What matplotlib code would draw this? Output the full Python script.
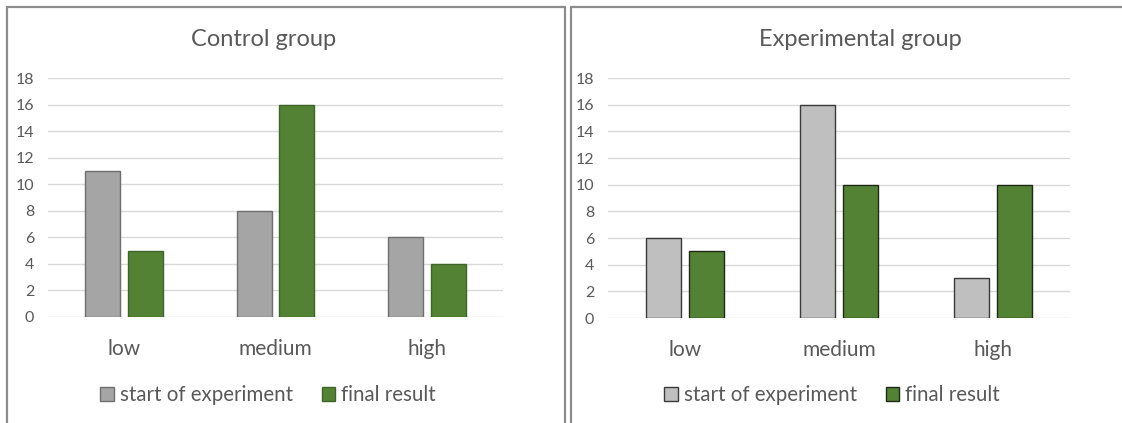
import matplotlib
matplotlib.use("Agg")
import matplotlib.pyplot as plt
from matplotlib.patches import Rectangle, Patch
import numpy as np

categories = ["low", "medium", "high"]
series_names = ["start of experiment", "final result"]
control_start = [11, 8, 6]
control_final = [5, 16, 4]
experimental_start = [6, 16, 3]
experimental_final = [5, 10, 10]
y_ticks = [0, 2, 4, 6, 8, 10, 12, 14, 16, 18]

W, H = 1122, 423
fig = plt.figure(figsize=(W / 100, H / 100), dpi=100)
fig.patch.set_facecolor("white")

FONT = ["Lato", "DejaVu Sans"]
TEXT = "#595959"
GRID = "#D9D9D9"
GREEN = "#548235"

def px(x0, y0, x1, y1):
    """Convert pixel box (left, top, right, bottom) to figure fractions."""
    return [x0 / W, 1 - y1 / H, (x1 - x0) / W, (y1 - y0) / H]

panels = [
    dict(title="Control group", start=control_start, final=control_final,
         start_color="#A5A5A5", start_edge="#6E6E6E", final_edge="#3F6427",
         frame=(7, 7, 565, 430), axes=(48, 78, 503, 317),
         title_x=264, legend_x=268),
    dict(title="Experimental group", start=experimental_start, final=experimental_final,
         start_color="#BFBFBF", start_edge="#3A3A3A", final_edge="#1E2A17",
         frame=(571, 7, 1130, 430), axes=(608, 78, 1070, 318),
         title_x=860, legend_x=832),
]

bar_w = 0.23
offset = 0.141
x = np.arange(len(categories))

for p in panels:
    fx0, fy0, fx1, fy1 = p["frame"]
    fig.patches.append(Rectangle((fx0 / W, 1 - fy1 / H), (fx1 - fx0) / W, (fy1 - fy0) / H,
                                 transform=fig.transFigure, fill=False,
                                 edgecolor="#8C8C8C", linewidth=1.6))
    ax0, ay0, ax1, ay1 = p["axes"]
    ax = fig.add_axes(px(ax0, ay0, ax1, ay1))
    ax.set_xlim(-0.5, len(categories) - 0.5)
    ax.set_ylim(0, 18)
    ax.set_yticks(y_ticks)
    ax.yaxis.grid(True, color=GRID, linewidth=1.0)
    ax.set_axisbelow(True)
    for s in ax.spines.values():
        s.set_visible(False)
    ax.tick_params(axis="y", length=0, pad=10, labelsize=11.5, labelcolor=TEXT)
    ax.tick_params(axis="x", length=0, pad=16, labelsize=15, labelcolor=TEXT)
    for lbl in ax.get_yticklabels():
        lbl.set_family(FONT)
    ax.set_xticks(x)
    ax.set_xticklabels(categories, family=FONT)
    ax.bar(x - offset, p["start"], bar_w, color=p["start_color"],
           edgecolor=p["start_edge"], linewidth=1.0, zorder=3)
    ax.bar(x + offset, p["final"], bar_w, color=GREEN,
           edgecolor=p["final_edge"], linewidth=1.0, zorder=3)
    fig.text(p["title_x"] / W, 1 - 39 / H, p["title"], ha="center", va="center",
             fontsize=17, color=TEXT, family=FONT)
    handles = [Patch(facecolor=p["start_color"], edgecolor=p["start_edge"], linewidth=1.0),
               Patch(facecolor=GREEN, edgecolor=p["final_edge"], linewidth=1.0)]
    fig.legend(handles, series_names, loc="center",
               bbox_to_anchor=(p["legend_x"] / W, 1 - 395 / H),
               ncol=2, frameon=False, prop={"family": FONT, "size": 14.8},
               labelcolor=TEXT, handlelength=0.64, handleheight=0.64,
               handletextpad=0.3, columnspacing=1.4)

fig.savefig("out.png", dpi=100, facecolor="white")
